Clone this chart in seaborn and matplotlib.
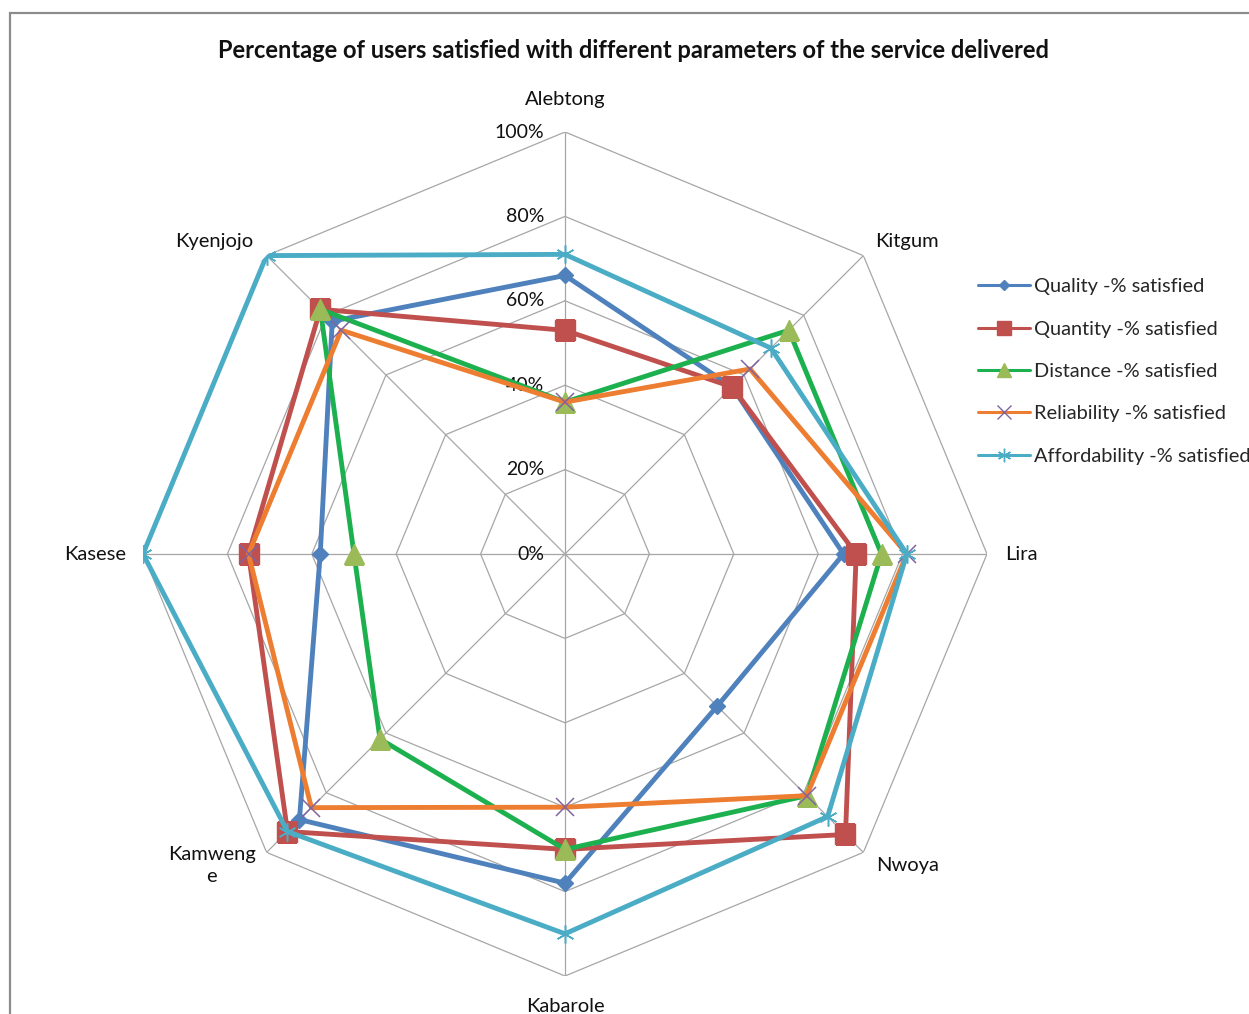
import numpy as np
import pandas as pd
import matplotlib
matplotlib.use("Agg")
import matplotlib.pyplot as plt
from matplotlib.lines import Line2D
from matplotlib.patches import Rectangle
import seaborn as sns

# Districts, clockwise from the top
districts = ["Alebtong", "Kitgum", "Lira", "Nwoya", "Kabarole", "Kamwenge", "Kasese", "Kyenjojo"]
district_labels = ["Alebtong", "Kitgum", "Lira", "Nwoya", "Kabarole", "Kamweng\ne", "Kasese", "Kyenjojo"]

# Percentage of users satisfied, per district
quality = [66, 56, 66, 51, 78, 89, 58, 78]
quantity = [53, 56, 69, 94, 70, 93, 75, 82]
distance = [36, 75, 75, 81, 70, 62, 50, 82]
reliability = [36, 62, 81, 81, 60, 85, 75, 75]
affordability = [71, 69, 81, 88, 90, 93, 100, 100]

series_names = ["Quality -% satisfied", "Quantity -% satisfied", "Distance -% satisfied",
                "Reliability -% satisfied", "Affordability -% satisfied"]
radial_ticks = [0, 20, 40, 60, 80, 100]
radial_tick_labels = ["0%", "20%", "40%", "60%", "80%", "100%"]

sns.set_theme(style="white")
plt.rcParams["font.family"] = ["Lato", "DejaVu Sans"]

line_colors = ["#4F81BD", "#C0504D", "#1DB04E", "#ED7D31", "#4BACC6"]
marker_colors = ["#4F81BD", "#C0504D", "#9BBB59", "#8064A2", "#4BACC6"]
markers = ["D", "s", "^", "x", (6, 2, 0)]
marker_sizes = [8, 14, 14, 13, 13]

fig = plt.figure(figsize=(12.49, 10.14), dpi=100)
W, H = 1249, 1014
cx, cy, R = 565, 554, 422
ax = fig.add_axes([(cx - R) / W, (H - cy - R) / H, 2 * R / W, 2 * R / H], projection="polar")
ax.set_theta_offset(np.pi / 2)
ax.set_theta_direction(-1)
ax.set_ylim(0, 100)
ax.grid(False)
ax.set_xticks([])
ax.set_yticks([])
ax.spines["polar"].set_visible(False)
ax.set_facecolor("none")

n = len(districts)
angles = np.linspace(0, 2 * np.pi, n, endpoint=False)
closed = np.append(angles, angles[0])

# Polygonal gridlines and spokes
grid_kw = dict(color="#A6A6A6", lw=0.9, zorder=1)
for lvl in radial_ticks[1:]:
    ax.plot(closed, [lvl] * (n + 1), **grid_kw)
for a in angles:
    ax.plot([a, a], [0, 100], **grid_kw)

# Radial value labels along the top spoke
for v, lab in zip(radial_ticks, radial_tick_labels):
    ax.annotate(lab, xy=(0, v), xytext=(-21, 0), textcoords="offset pixels",
                ha="right", va="center", fontsize=14, color="#111111")

# Series
all_values = [quality, quantity, distance, reliability, affordability]
frames = []
for name, vals in zip(series_names, all_values):
    frames.append(pd.DataFrame({"theta": closed, "value": vals + [vals[0]],
                                "series": name, "order": range(n + 1)}))
df = pd.concat(frames, ignore_index=True)

for i, name in enumerate(series_names):
    sub = df[df["series"] == name]
    sns.lineplot(data=sub, x="theta", y="value", sort=False, estimator=None,
                 color=line_colors[i], lw=3.5, ax=ax, zorder=3 + i, legend=False)
    pts = sub.iloc[:-1]
    if markers[i] in ("x", (6, 2, 0)):
        ax.plot(pts["theta"], pts["value"], ls="none", marker=markers[i],
                ms=marker_sizes[i], mew=1.1, color=marker_colors[i], zorder=3.5 + i)
    else:
        ax.plot(pts["theta"], pts["value"], ls="none", marker=markers[i],
                ms=marker_sizes[i], mfc=marker_colors[i], mec=marker_colors[i],
                zorder=3.5 + i)
ax.set_xlabel("")
ax.set_ylabel("")

# District labels around the outer ring
label_offsets = [(0, 33, "center"), (12, 14, "left"), (18, 0, "left"), (13, -13, "left"),
                 (0, -30, "center"), (-55, -13, "center"), (-17, 0, "right"), (-13, 14, "right")]
for a, lab, (dx, dy, ha) in zip(angles, district_labels, label_offsets):
    ax.annotate(lab, xy=(a, 100), xytext=(dx, dy), textcoords="offset pixels",
                ha=ha, va="center", multialignment="center", fontsize=14.5,
                color="#111111", annotation_clip=False, linespacing=1.35)

# Legend
handles = []
for i, name in enumerate(series_names):
    if markers[i] in ("x", (6, 2, 0)):
        h = Line2D([], [], color=line_colors[i], lw=2.2, marker=markers[i],
                   ms=marker_sizes[i] * 0.75, mew=1.0, mec=marker_colors[i])
    else:
        h = Line2D([], [], color=line_colors[i], lw=2.2, marker=markers[i],
                   ms=marker_sizes[i] * 0.7, mfc=marker_colors[i], mec=marker_colors[i])
    handles.append(h)
fig.legend(handles, series_names, loc="center left", bbox_to_anchor=(978 / W, 1 - 371.5 / H),
           frameon=False, fontsize=14.4, handlelength=2.6, handletextpad=0.2,
           labelspacing=1.27, borderpad=0, borderaxespad=0)

# Title
fig.text(634 / W, 1 - 51 / H, "Percentage of users satisfied with different parameters of the service delivered",
         ha="center", va="center", fontsize=17, fontweight="bold", color="#111111")

# Chart-area border
fig.patches.append(Rectangle((10 / W, -0.05), 1.2, 1 - 13 / H + 0.05, transform=fig.transFigure,
                             fill=False, ec="#8C8C8C", lw=1.6))

fig.savefig("out.png", dpi=100)
